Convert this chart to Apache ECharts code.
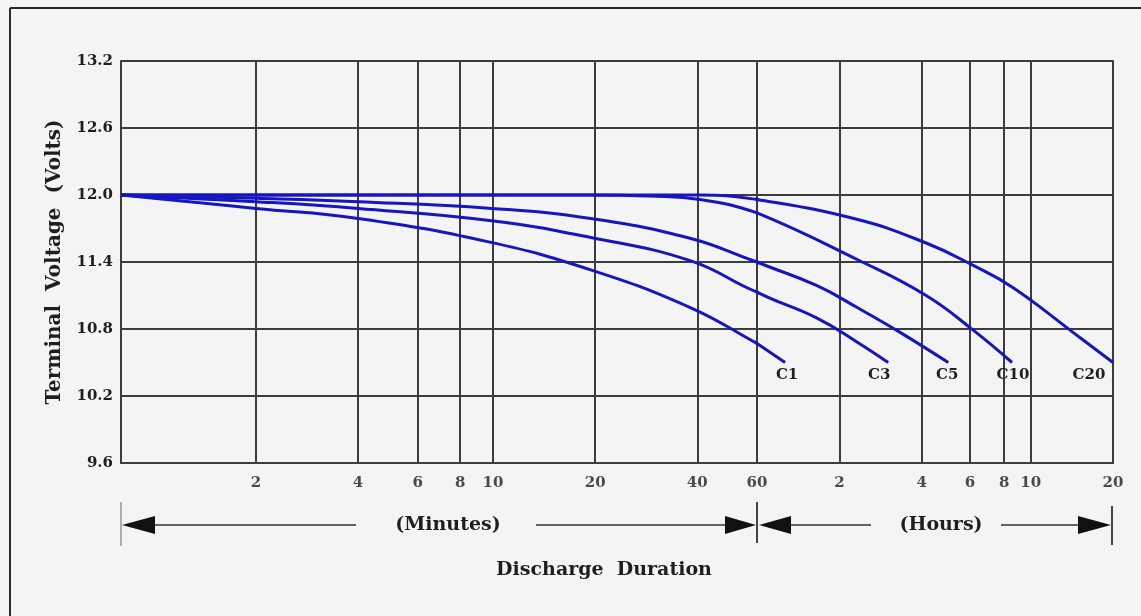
<!DOCTYPE html>
<html>
<head>
<meta charset="utf-8">
<script src="https://cdn.jsdelivr.net/npm/echarts@6/dist/echarts.min.js"></script>
<style>
html,body{margin:0;padding:0;background:#f4f4f4;}
#chart{width:1141px;height:616px;}
</style>
</head>
<body>
<div id="chart"></div>
<script>
// ---- data ----
// x values in minutes (discharge duration), y values in volts
const minuteTicks = [2, 4, 6, 8, 10, 20, 40, 60];
const hourTicks = [2, 4, 6, 8, 10, 20];
const curveNames = ['C1', 'C3', 'C5', 'C10', 'C20'];
const c1 = [[0.8,12.0],[2,11.88],[4,11.79],[9.7,11.58],[19.4,11.33],[38.3,10.99],[60,10.67],[76,10.5]];
const c3 = [[0.8,12.0],[2,11.94],[4,11.88],[9.9,11.77],[19.4,11.62],[38.3,11.41],[60,11.13],[99,10.90],[140,10.68],[181,10.5]];
const c5 = [[0.8,12.0],[2,11.97],[4,11.94],[9.9,11.88],[19.4,11.79],[38.3,11.61],[60,11.40],[99,11.19],[140,10.99],[200,10.77],[300,10.5]];
const c10 = [[0.8,12.0],[19.4,12.0],[29,11.99],[40.7,11.96],[60,11.84],[140,11.42],[249,11.10],[370,10.79],[513,10.5]];
const c20 = [[0.8,12.0],[20,12.0],[40.7,12.0],[60,11.96],[140,11.78],[249,11.57],[370,11.37],[518,11.17],[857,10.77],[1200,10.5]];
const curves = [c1, c3, c5, c10, c20];

// ---- styles ----
const FONT = '"DejaVu Serif", "Liberation Serif", serif';
const TXT = '#1e1e1e';
const GRID = '#3c3c3c';
const BLUE = '#1616c0';
const labelOffsets = {C1: [2, 0], C3: [-9, 0], C5: [-1, 0], C10: [1, 0], C20: [-24, 0]};

const chart = echarts.init(document.getElementById('chart'), null, {renderer: 'canvas'});

const series = [];
// vertical grid lines
series.push({
  type: 'line', xAxisIndex: 0, yAxisIndex: 0, data: [[1, 9.6]], showSymbol: false,
  lineStyle: {width: 0, opacity: 0}, silent: true, z: 1,
  markLine: {silent: true, symbol: ['none', 'none'], label: {show: false}, animation: false,
    lineStyle: {color: GRID, width: 2, type: 'solid'},
    data: minuteTicks.map(v => ({xAxis: v}))}
});
series.push({
  type: 'line', xAxisIndex: 1, yAxisIndex: 1, data: [[1, 9.6]], showSymbol: false,
  lineStyle: {width: 0, opacity: 0}, silent: true, z: 1,
  markLine: {silent: true, symbol: ['none', 'none'], label: {show: false}, animation: false,
    lineStyle: {color: GRID, width: 2, type: 'solid'},
    data: hourTicks.map(v => ({xAxis: v}))}
});
// tick labels
const tickLabel = {show: true, position: 'bottom', distance: 12, color: TXT,
  fontFamily: FONT, fontWeight: 'bold', fontSize: 15, formatter: p => String(p.value[0])};
series.push({type: 'scatter', xAxisIndex: 0, yAxisIndex: 0, symbolSize: 1, clip: false, silent: true,
  itemStyle: {color: 'rgba(0,0,0,0)'}, label: tickLabel, data: minuteTicks.map(v => [v, 9.6])});
series.push({type: 'scatter', xAxisIndex: 1, yAxisIndex: 1, symbolSize: 1, clip: false, silent: true,
  itemStyle: {color: 'rgba(0,0,0,0)'}, label: tickLabel, data: hourTicks.map(v => [v, 9.6])});

curves.forEach((d, i) => {
  const name = curveNames[i];
  // minutes panel: points up to 60 min plus the next one (clipped) for a continuous tangent
  const iAfter = d.findIndex(p => p[0] > 60);
  const mins = d.slice(0, iAfter >= 0 ? iAfter + 1 : d.length);
  // hours panel: points from 60 min on, plus the one before (clipped)
  const iAt = d.findIndex(p => p[0] >= 60);
  const hrs = d.slice(Math.max(0, iAt - 1)).map(p => [p[0] / 60, p[1]]);
  const common = {type: 'line', name: name, smooth: 0.45, showSymbol: false,
    symbol: 'none', lineStyle: {color: BLUE, width: 3}, z: 5, silent: true, clip: true};
  series.push(Object.assign({}, common, {xAxisIndex: 0, yAxisIndex: 0, data: mins}));
  const hdata = hrs.map((p, j) => j === hrs.length - 1 ? {
    value: p, symbol: 'circle', symbolSize: 1, itemStyle: {color: 'rgba(0,0,0,0)'},
    label: {show: true, formatter: name, position: 'bottom', distance: 5, offset: labelOffsets[name],
      color: TXT, fontFamily: FONT, fontWeight: 'bold', fontSize: 15}
  } : p);
  series.push(Object.assign({}, common, {xAxisIndex: 1, yAxisIndex: 1, data: hdata, showSymbol: true}));
});

const axisLine = {show: true, lineStyle: {color: GRID, width: 2}};
const titleFont = 'bold 19px ' + FONT;

const option = {
  backgroundColor: '#f4f4f4',
  animation: false,
  grid: [
    {left: 121, top: 61, width: 636, height: 402},
    {left: 757, top: 61, width: 356, height: 402}
  ],
  xAxis: [
    {gridIndex: 0, type: 'log', logBase: 10, min: 0.8, max: 60, axisLine: axisLine,
      axisTick: {show: false}, axisLabel: {show: false}, splitLine: {show: false}, minorSplitLine: {show: false}},
    {gridIndex: 1, type: 'log', logBase: 10, min: 1, max: 20, axisLine: axisLine,
      axisTick: {show: false}, axisLabel: {show: false}, splitLine: {show: false}, minorSplitLine: {show: false}}
  ],
  yAxis: [
    {gridIndex: 0, type: 'value', min: 9.6, max: 13.2, interval: 0.6, axisLine: axisLine,
      axisTick: {show: false},
      axisLabel: {margin: 8, color: TXT, fontFamily: FONT, fontWeight: 'bold', fontSize: 15,
        formatter: v => v.toFixed(1)},
      splitLine: {show: true, lineStyle: {color: GRID, width: 2}},
      name: 'Terminal  Voltage  (Volts)', nameLocation: 'middle', nameGap: 56, nameRotate: 90,
      nameTextStyle: {color: TXT, fontFamily: FONT, fontWeight: 'bold', fontSize: 20}},
    {gridIndex: 1, type: 'value', min: 9.6, max: 13.2, interval: 0.6, position: 'right',
      axisLine: axisLine, axisTick: {show: false}, axisLabel: {show: false},
      splitLine: {show: true, lineStyle: {color: GRID, width: 2}}}
  ],
  series: series,
  graphic: [
    {type: 'line', shape: {x1: 10, y1: 8, x2: 1141, y2: 8}, style: {stroke: '#2a2a2a', lineWidth: 2}},
    {type: 'line', shape: {x1: 10, y1: 8, x2: 10, y2: 616}, style: {stroke: '#2a2a2a', lineWidth: 2}},
    {type: 'line', shape: {x1: 121, y1: 502, x2: 121, y2: 546}, style: {stroke: '#9a9a9a', lineWidth: 1.5}},
    {type: 'line', shape: {x1: 757, y1: 502, x2: 757, y2: 543}, style: {stroke: '#444', lineWidth: 2}},
    {type: 'line', shape: {x1: 1112, y1: 506, x2: 1112, y2: 545}, style: {stroke: '#444', lineWidth: 2}},
    {type: 'polygon', shape: {points: [[122, 525], [155, 516], [155, 534]]}, style: {fill: '#111'}},
    {type: 'line', shape: {x1: 155, y1: 525, x2: 356, y2: 525}, style: {stroke: '#333', lineWidth: 1.5}},
    {type: 'line', shape: {x1: 536, y1: 525, x2: 726, y2: 525}, style: {stroke: '#333', lineWidth: 1.5}},
    {type: 'polygon', shape: {points: [[756, 525], [725, 516], [725, 534]]}, style: {fill: '#111'}},
    {type: 'polygon', shape: {points: [[759, 525], [791, 516], [791, 534]]}, style: {fill: '#111'}},
    {type: 'line', shape: {x1: 791, y1: 525, x2: 871, y2: 525}, style: {stroke: '#333', lineWidth: 1.5}},
    {type: 'line', shape: {x1: 1001, y1: 525, x2: 1079, y2: 525}, style: {stroke: '#333', lineWidth: 1.5}},
    {type: 'polygon', shape: {points: [[1111, 525], [1078, 516], [1078, 534]]}, style: {fill: '#111'}},
    {type: 'text', x: 448, y: 525, style: {text: '(Minutes)', font: titleFont, fill: TXT,
      align: 'center', verticalAlign: 'middle', textAlign: 'center', textVerticalAlign: 'middle'}},
    {type: 'text', x: 941, y: 525, style: {text: '(Hours)', font: titleFont, fill: TXT,
      align: 'center', verticalAlign: 'middle', textAlign: 'center', textVerticalAlign: 'middle'}},
    {type: 'text', x: 604, y: 570, style: {text: 'Discharge  Duration', font: titleFont, fill: TXT,
      align: 'center', verticalAlign: 'middle', textAlign: 'center', textVerticalAlign: 'middle'}}
  ]
};
chart.setOption(option);
</script>
</body>
</html>
